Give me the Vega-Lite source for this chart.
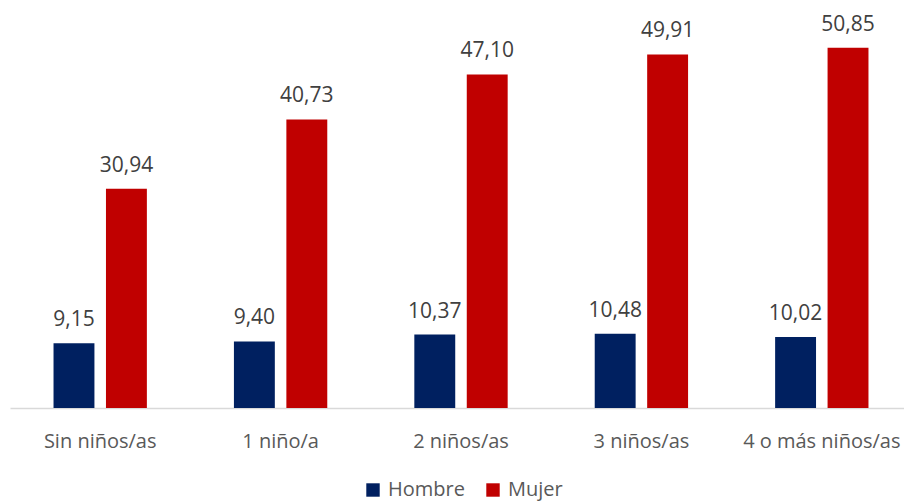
{
  "$schema": "https://vega.github.io/schema/vega-lite/v6.json",
  "width": 894,
  "height": 408,
  "autosize": {"type": "none"},
  "padding": {"left": 10, "top": 0, "right": 0, "bottom": 94},
  "background": "white",
  "config": {
    "view": {"stroke": null},
    "font": "Open Sans",
    "locale": {"number": {"decimal": ",", "thousands": ".", "grouping": [3], "currency": ["", " €"]}}
  },
  "data": {
    "values": [
      {"grupo": "Sin niños/as", "sexo": "Hombre", "valor": 9.15},
      {"grupo": "Sin niños/as", "sexo": "Mujer", "valor": 30.94},
      {"grupo": "1 niño/a", "sexo": "Hombre", "valor": 9.40},
      {"grupo": "1 niño/a", "sexo": "Mujer", "valor": 40.73},
      {"grupo": "2 niños/as", "sexo": "Hombre", "valor": 10.37},
      {"grupo": "2 niños/as", "sexo": "Mujer", "valor": 47.10},
      {"grupo": "3 niños/as", "sexo": "Hombre", "valor": 10.48},
      {"grupo": "3 niños/as", "sexo": "Mujer", "valor": 49.91},
      {"grupo": "4 o más niños/as", "sexo": "Hombre", "valor": 10.02},
      {"grupo": "4 o más niños/as", "sexo": "Mujer", "valor": 50.85}
    ]
  },
  "encoding": {
    "x": {
      "field": "grupo",
      "type": "nominal",
      "sort": null,
      "title": null,
      "scale": {"paddingInner": 0, "paddingOuter": 0, "range": [0, 902]},
      "axis": {
        "labelAngle": 0,
        "labelFontSize": 20,
        "labelColor": "#595959",
        "labelPadding": 23,
        "ticks": false,
        "domainColor": "#d9d9d9",
        "domainWidth": 1.5,
        "grid": false
      }
    },
    "xOffset": {
      "field": "sexo",
      "type": "nominal",
      "scale": {"paddingInner": 0.22, "paddingOuter": 0.83}
    },
    "y": {
      "field": "valor",
      "type": "quantitative",
      "scale": {"domain": [0, 57.6], "nice": false},
      "axis": null
    }
  },
  "layer": [
    {
      "mark": {"type": "bar"},
      "encoding": {
        "color": {
          "field": "sexo",
          "type": "nominal",
          "title": null,
          "scale": {"domain": ["Hombre", "Mujer"], "range": ["#002060", "#C00000"]},
          "legend": {
            "orient": "none",
            "direction": "horizontal",
            "legendX": 353,
            "legendY": 480,
            "padding": 0,
            "symbolType": "square",
            "symbolSize": 180,
            "symbolStrokeWidth": 0,
            "labelFontSize": 20,
            "labelColor": "#595959",
            "labelOffset": 5,
            "columnPadding": 18
          }
        }
      }
    },
    {
      "mark": {"type": "text", "baseline": "alphabetic", "dy": -17, "fontSize": 21, "color": "#404040"},
      "encoding": {
        "text": {"field": "valor", "type": "quantitative", "format": ".2f"}
      }
    }
  ]
}
